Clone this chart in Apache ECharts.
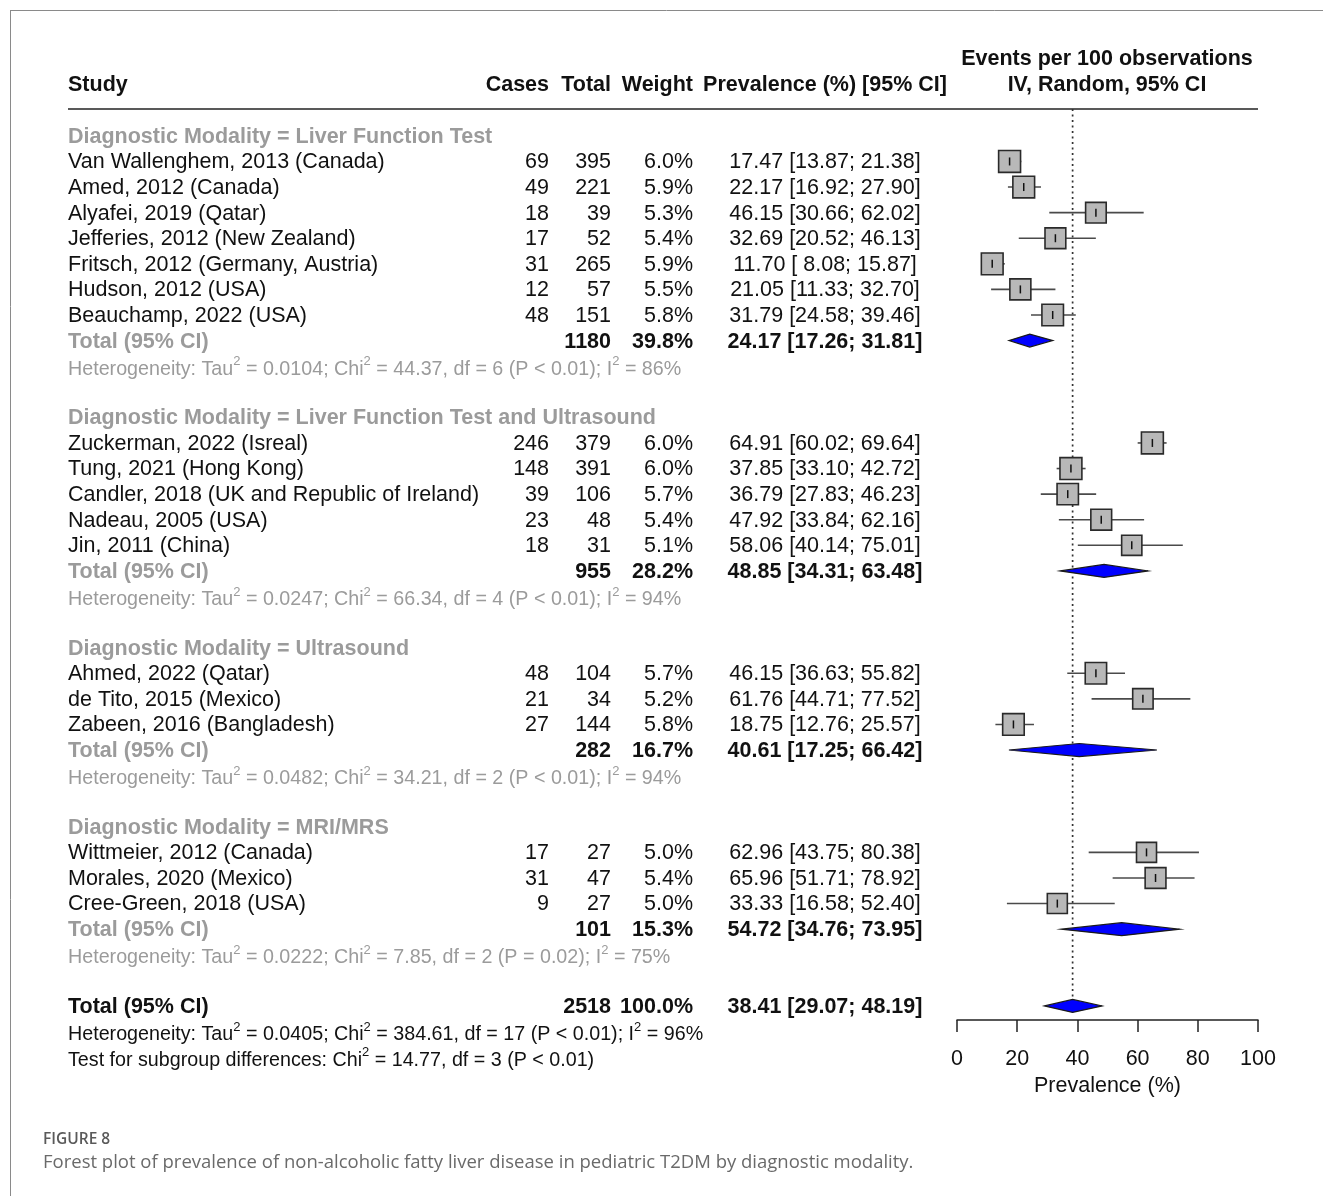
<!DOCTYPE html>
<html>
<head>
<meta charset="utf-8">
<title>Forest plot – NAFLD prevalence in pediatric T2DM</title>
<script src="https://cdn.jsdelivr.net/npm/echarts@6/dist/echarts.min.js"></script>
<style>
  html, body { margin: 0; padding: 0; background: #fff; }
  #chart { width: 1323px; height: 1196px; }
</style>
</head>
<body>
<div id="chart"></div>
<script>
// ---- study-level data -------------------------------------------------
const groupNames = ['Liver Function Test', 'Liver Function Test and Ultrasound', 'Ultrasound', 'MRI/MRS'];

const studyNames = [
  'Van Wallenghem, 2013 (Canada)', 'Amed, 2012 (Canada)', 'Alyafei, 2019 (Qatar)',
  'Jefferies, 2012 (New Zealand)', 'Fritsch, 2012 (Germany, Austria)', 'Hudson, 2012 (USA)',
  'Beauchamp, 2022 (USA)',
  'Zuckerman, 2022 (Isreal)', 'Tung, 2021 (Hong Kong)', 'Candler, 2018 (UK and Republic of Ireland)',
  'Nadeau, 2005 (USA)', 'Jin, 2011 (China)',
  'Ahmed, 2022 (Qatar)', 'de Tito, 2015 (Mexico)', 'Zabeen, 2016 (Bangladesh)',
  'Wittmeier, 2012 (Canada)', 'Morales, 2020 (Mexico)', 'Cree-Green, 2018 (USA)'
];
const studyGroup = [0, 0, 0, 0, 0, 0, 0, 1, 1, 1, 1, 1, 2, 2, 2, 3, 3, 3];
const studyCases = [69, 49, 18, 17, 31, 12, 48, 246, 148, 39, 23, 18, 48, 21, 27, 17, 31, 9];
const studyTotals = [395, 221, 39, 52, 265, 57, 151, 379, 391, 106, 48, 31, 104, 34, 144, 27, 47, 27];
const studyWeights = [6.0, 5.9, 5.3, 5.4, 5.9, 5.5, 5.8, 6.0, 6.0, 5.7, 5.4, 5.1, 5.7, 5.2, 5.8, 5.0, 5.4, 5.0];
const studyPrev = [17.47, 22.17, 46.15, 32.69, 11.70, 21.05, 31.79, 64.91, 37.85, 36.79, 47.92, 58.06, 46.15, 61.76, 18.75, 62.96, 65.96, 33.33];
const studyLow = [13.87, 16.92, 30.66, 20.52, 8.08, 11.33, 24.58, 60.02, 33.10, 27.83, 33.84, 40.14, 36.63, 44.71, 12.76, 43.75, 51.71, 16.58];
const studyHigh = [21.38, 27.90, 62.02, 46.13, 15.87, 32.70, 39.46, 69.64, 42.72, 46.23, 62.16, 75.01, 55.82, 77.52, 25.57, 80.38, 78.92, 52.40];

// ---- subgroup pooled estimates ----------------------------------------
const groupTotals = [1180, 955, 282, 101];
const groupWeights = [39.8, 28.2, 16.7, 15.3];
const groupPrev = [24.17, 48.85, 40.61, 54.72];
const groupLow = [17.26, 34.31, 17.25, 34.76];
const groupHigh = [31.81, 63.48, 66.42, 73.95];
const groupTau2 = ['0.0104', '0.0247', '0.0482', '0.0222'];
const groupChi2 = ['44.37', '66.34', '34.21', '7.85'];
const groupDf = [6, 4, 2, 2];
const groupP = ['P < 0.01', 'P < 0.01', 'P < 0.01', 'P = 0.02'];
const groupI2 = [86, 94, 94, 75];

// ---- overall pooled estimate ------------------------------------------
const overallTotal = 2518;
const overallWeight = 100.0;
const overallPrev = 38.41;
const overallLow = 29.07;
const overallHigh = 48.19;
const overallTau2 = '0.0405';
const overallChi2 = '384.61';
const overallDf = 17;
const overallP = 'P < 0.01';
const overallI2 = 96;
const subgroupChi2 = '14.77';
const subgroupDf = 3;
const subgroupP = 'P < 0.01';

// ---- axis ticks --------------------------------------------------------
const xTicks = [0, 20, 40, 60, 80, 100];

// ---- styling -----------------------------------------------------------
const FONT = '"Liberation Sans", Arial, Helvetica, sans-serif';
const CAPTION_FONT = '"Open Sans", "Noto Sans", sans-serif';
const GREY = '#9b9b9b';
const BLACK = '#111';
const FS = 21.5;       // table and axis text
const FS_HET = 19.7;   // heterogeneity statistics
const TEXT_DY = 1;     // optical centring of text on its row

const NAME_X = 68, CASES_X = 549, TOTAL_X = 611, WEIGHT_X = 693, CI_X = 825;

// ---- row layout: one line per table row --------------------------------
const rows = [];
const studyRow = [];
const groupRow = [];
groupNames.forEach((g, gi) => {
  rows.push({ kind: 'heading', gi });
  studyGroup.forEach((sg, si) => {
    if (sg === gi) { studyRow[si] = rows.length; rows.push({ kind: 'study', si }); }
  });
  groupRow[gi] = rows.length;
  rows.push({ kind: 'groupTotal', gi });
  rows.push({ kind: 'groupHet', gi });
  rows.push({ kind: 'blank' });
});
const overallRow = rows.length;
rows.push({ kind: 'overall' });
rows.push({ kind: 'overallHet' });
rows.push({ kind: 'subgroup' });

const fmt2 = v => (v < 10 ? ' ' : '') + v.toFixed(2);
const ciText = (p, lo, hi) => `${p.toFixed(2)} [${fmt2(lo)}; ${fmt2(hi)}]`;
const hetText = (tau, chi, df, p, i2) =>
  `{t|Heterogeneity: Tau}{s|2}{t| = ${tau}; Chi}{s|2}{t| = ${chi}, df = ${df} (${p}); I}{s|2}{t| = ${i2}%}`;

function richStyles(color) {
  return {
    t: { fontSize: FS_HET, fontFamily: FONT, fill: color, lineHeight: 24, verticalAlign: 'bottom' },
    s: { fontSize: 13, fontFamily: FONT, fill: color, lineHeight: 13, verticalAlign: 'top' }
  };
}

function renderTableRow(params, api) {
  const row = rows[params.dataIndex];
  const y = api.coord([0, params.dataIndex])[1] + TEXT_DY;
  const kids = [];
  const txt = (text, x, align, bold, color) => kids.push({
    type: 'text', x, y, silent: true,
    style: {
      text, align, verticalAlign: 'middle', fontFamily: FONT, fontSize: FS,
      fontWeight: bold ? 'bold' : 'normal', fill: color
    }
  });
  const rich = (text, color) => kids.push({
    type: 'text', x: NAME_X, y, silent: true,
    style: { text, align: 'left', verticalAlign: 'middle', rich: richStyles(color) }
  });
  switch (row.kind) {
    case 'heading':
      txt('Diagnostic Modality = ' + groupNames[row.gi], NAME_X, 'left', true, GREY);
      break;
    case 'study': {
      const i = row.si;
      txt(studyNames[i], NAME_X, 'left', false, BLACK);
      txt(String(studyCases[i]), CASES_X, 'right', false, BLACK);
      txt(String(studyTotals[i]), TOTAL_X, 'right', false, BLACK);
      txt(studyWeights[i].toFixed(1) + '%', WEIGHT_X, 'right', false, BLACK);
      txt(ciText(studyPrev[i], studyLow[i], studyHigh[i]), CI_X, 'center', false, BLACK);
      break;
    }
    case 'groupTotal': {
      const g = row.gi;
      txt('Total (95% CI)', NAME_X, 'left', true, GREY);
      txt(String(groupTotals[g]), TOTAL_X, 'right', true, BLACK);
      txt(groupWeights[g].toFixed(1) + '%', WEIGHT_X, 'right', true, BLACK);
      txt(ciText(groupPrev[g], groupLow[g], groupHigh[g]), CI_X, 'center', true, BLACK);
      break;
    }
    case 'groupHet': {
      const g = row.gi;
      rich(hetText(groupTau2[g], groupChi2[g], groupDf[g], groupP[g], groupI2[g]), GREY);
      break;
    }
    case 'overall':
      txt('Total (95% CI)', NAME_X, 'left', true, BLACK);
      txt(String(overallTotal), TOTAL_X, 'right', true, BLACK);
      txt(overallWeight.toFixed(1) + '%', WEIGHT_X, 'right', true, BLACK);
      txt(ciText(overallPrev, overallLow, overallHigh), CI_X, 'center', true, BLACK);
      break;
    case 'overallHet':
      rich(hetText(overallTau2, overallChi2, overallDf, overallP, overallI2), BLACK);
      break;
    case 'subgroup':
      rich(`{t|Test for subgroup differences: Chi}{s|2}{t| = ${subgroupChi2}, df = ${subgroupDf} (${subgroupP})}`, BLACK);
      break;
  }
  return { type: 'group', children: kids };
}

// square side grows with the square root of the study weight
const BOX_PER_SQRT_WEIGHT = 8.95;

function renderStudy(params, api) {
  const row = api.value(4);
  const c = api.coord([api.value(0), row]);
  const lo = api.coord([api.value(1), row]);
  const hi = api.coord([api.value(2), row]);
  const side = BOX_PER_SQRT_WEIGHT * Math.sqrt(api.value(3));
  const ciLine = {
    type: 'line', silent: true,
    shape: { x1: lo[0], y1: c[1], x2: hi[0], y2: c[1] },
    style: { stroke: '#4a4a4a', lineWidth: 1.6 }
  };
  const box = {
    type: 'rect', silent: true,
    shape: { x: c[0] - side / 2, y: c[1] - side / 2, width: side, height: side },
    style: { fill: '#b8b8b8', stroke: '#2a2a2a', lineWidth: 1.6 }
  };
  const tick = {
    type: 'line', silent: true,
    shape: { x1: c[0], y1: c[1] - 4, x2: c[0], y2: c[1] + 4 },
    style: { stroke: '#111', lineWidth: 1.5 }
  };
  const ciInsideBox = (hi[0] - lo[0]) < side;
  return { type: 'group', children: ciInsideBox ? [box, ciLine, tick] : [ciLine, box, tick] };
}

function renderDiamond(params, api) {
  const row = api.value(3);
  const c = api.coord([api.value(0), row]);
  const lo = api.coord([api.value(1), row]);
  const hi = api.coord([api.value(2), row]);
  const h = 6.5;
  return {
    type: 'polygon', silent: true,
    shape: { points: [[lo[0], c[1]], [c[0], c[1] - h], [hi[0], c[1]], [c[0], c[1] + h]] },
    style: { fill: '#0000ff', stroke: '#1a1a1a', lineWidth: 1.2 }
  };
}

function renderRefLine(params, api) {
  const top = api.coord([api.value(0), api.value(1)]);
  const bottom = api.coord([api.value(0), api.value(2)]);
  return {
    type: 'line', silent: true,
    shape: { x1: top[0], y1: top[1], x2: bottom[0], y2: bottom[1] },
    style: { stroke: '#333', lineWidth: 1.7, lineDash: [2, 3.5] }
  };
}

const studyData = studyNames.map((n, i) => [studyPrev[i], studyLow[i], studyHigh[i], studyWeights[i], studyRow[i]]);
const diamondData = groupNames.map((g, gi) => [groupPrev[gi], groupLow[gi], groupHigh[gi], groupRow[gi]])
  .concat([[overallPrev, overallLow, overallHigh, overallRow]]);
const tableData = rows.map((r, i) => [0, i]);

const ROW_TOP = -1.05;     // header rule sits just above the first row
const ROW_AXIS = 34.55;    // x axis sits between the overall total and its heterogeneity line

const chart = echarts.init(document.getElementById('chart'), null, { renderer: 'canvas' });

const headText = (text, x, y, align) => ({
  type: 'text', x, y, silent: true,
  style: { text, align, verticalAlign: 'middle', fontFamily: FONT, fontSize: FS, fontWeight: 'bold', fill: BLACK }
});

chart.setOption({
  animation: false,
  backgroundColor: '#fff',
  grid: { left: 957, right: 65, top: 109, bottom: 176, outerBoundsMode: 'none' },
  xAxis: {
    type: 'value', position: 'bottom', min: xTicks[0], max: xTicks[xTicks.length - 1], interval: 20,
    splitLine: { show: false },
    axisLine: { show: true, onZero: false, lineStyle: { color: '#222', width: 1.5 } },
    axisTick: { show: true, length: 12, lineStyle: { color: '#222', width: 1.5 } },
    axisLabel: { fontSize: FS, color: BLACK, fontFamily: FONT, margin: 28 },
    name: 'Prevalence (%)', nameLocation: 'middle', nameGap: 53,
    nameTextStyle: { fontSize: FS, color: BLACK, fontFamily: FONT }
  },
  yAxis: { type: 'value', inverse: true, min: ROW_TOP, max: ROW_AXIS, show: false },
  series: [
    { type: 'custom', name: 'reference', renderItem: renderRefLine,
      encode: { x: 0, y: [1, 2] }, data: [[overallPrev, ROW_TOP, overallRow]], z: 1 },
    { type: 'custom', name: 'studies', renderItem: renderStudy,
      encode: { x: [0, 1, 2], y: 4 }, data: studyData, z: 2 },
    { type: 'custom', name: 'pooled', renderItem: renderDiamond,
      encode: { x: [0, 1, 2], y: 3 }, data: diamondData, z: 3 },
    { type: 'custom', name: 'table', renderItem: renderTableRow,
      encode: { x: 0, y: 1 }, data: tableData, z: 4, clip: false }
  ],
  graphic: [
    // figure frame
    { type: 'line', silent: true, shape: { x1: 10, y1: 10.5, x2: 1323, y2: 10.5 }, style: { stroke: '#8a8a8a', lineWidth: 1 } },
    { type: 'line', silent: true, shape: { x1: 10.5, y1: 10, x2: 10.5, y2: 1196 }, style: { stroke: '#8a8a8a', lineWidth: 1 } },
    // column headers
    headText('Study', NAME_X, 85, 'left'),
    headText('Cases', CASES_X, 85, 'right'),
    headText('Total', TOTAL_X, 85, 'right'),
    headText('Weight', WEIGHT_X, 85, 'right'),
    headText('Prevalence (%) [95% CI]', CI_X, 85, 'center'),
    headText('Events per 100 observations', 1107, 59, 'center'),
    headText('IV, Random, 95% CI', 1107, 85, 'center'),
    { type: 'line', silent: true, shape: { x1: NAME_X, y1: 109, x2: 1258, y2: 109 }, style: { stroke: '#222', lineWidth: 1.5 } },
    // caption
    { type: 'text', x: 43, y: 1140, silent: true,
      style: { text: 'FIGURE 8', align: 'left', verticalAlign: 'middle', fontFamily: CAPTION_FONT, fontSize: 15.5, fontWeight: 600, fill: '#5a5a5a' } },
    { type: 'text', x: 43, y: 1163, silent: true,
      style: { text: 'Forest plot of prevalence of non-alcoholic fatty liver disease in pediatric T2DM by diagnostic modality.',
        align: 'left', verticalAlign: 'middle', fontFamily: CAPTION_FONT, fontSize: 18.5, fill: '#6a6a6a' } }
  ]
});
</script>
</body>
</html>
